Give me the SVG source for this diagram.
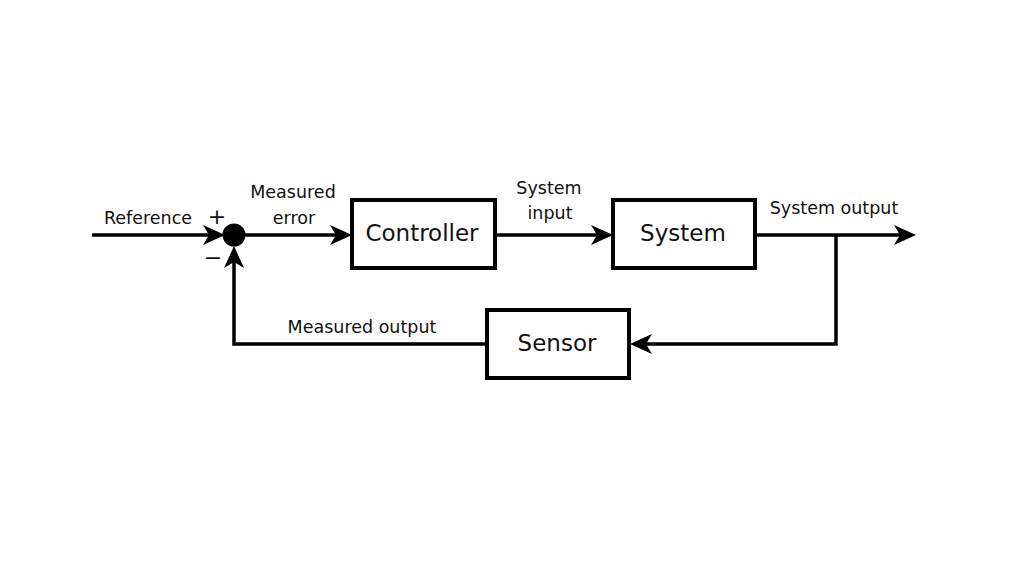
<svg xmlns="http://www.w3.org/2000/svg" width="1024" height="576" viewBox="0 0 1024 576">
<style>
.box{fill:#fff;stroke:#000;stroke-width:4}
.ln{fill:none;stroke:#000;stroke-width:3.5}
.lbl{font-family:"DejaVu Sans",sans-serif;font-size:17.5px;fill:#111;text-anchor:middle}
.big{font-family:"DejaVu Sans",sans-serif;font-size:23px;fill:#111;text-anchor:middle}
</style>
<defs>
<marker id="ah" viewBox="-1 -11 24 22" refX="16" refY="0" markerWidth="24" markerHeight="22" markerUnits="userSpaceOnUse" orient="auto">
<path d="M0,-10 L22,0 L0,10 L6,0 z" fill="#000"/>
</marker>
</defs>
<rect width="1024" height="576" fill="#fff"/>
<g id="connectors">
<path class="ln" d="M92,235 H219" marker-end="url(#ah)"/>
<path class="ln" d="M245,235 H346" marker-end="url(#ah)"/>
<path class="ln" d="M495,235 H607" marker-end="url(#ah)"/>
<path class="ln" d="M755,235 H910" marker-end="url(#ah)"/>
<path class="ln" d="M836,235 V344 H636" marker-end="url(#ah)"/>
<path class="ln" d="M487,344 H234 V252" marker-end="url(#ah)"/>
</g>
<g id="sum">
<circle cx="234" cy="235" r="11.5" fill="#000"/>
<text class="lbl" x="217" y="224" style="font-size:22px">+</text>
<text class="lbl" x="213" y="265" style="font-size:22px">−</text>
</g>
<g id="labels">
<text class="lbl" x="148" y="224">Reference</text>
<text class="lbl" x="293" y="198">Measured</text>
<text class="lbl" x="294" y="224">error</text>
<text class="lbl" x="549" y="194">System</text>
<text class="lbl" x="550" y="219">input</text>
<text class="lbl" x="834" y="214">System output</text>
<text class="lbl" x="362" y="333">Measured output</text>
</g>
<g id="controller">
<rect class="box" x="352" y="200" width="143" height="68"/>
<text class="big" x="422" y="241">Controller</text>
</g>
<g id="system">
<rect class="box" x="613" y="200" width="142" height="68"/>
<text class="big" x="683" y="241">System</text>
</g>
<g id="sensor">
<rect class="box" x="487" y="310" width="142" height="68"/>
<text class="big" x="557" y="351">Sensor</text>
</g>
</svg>
